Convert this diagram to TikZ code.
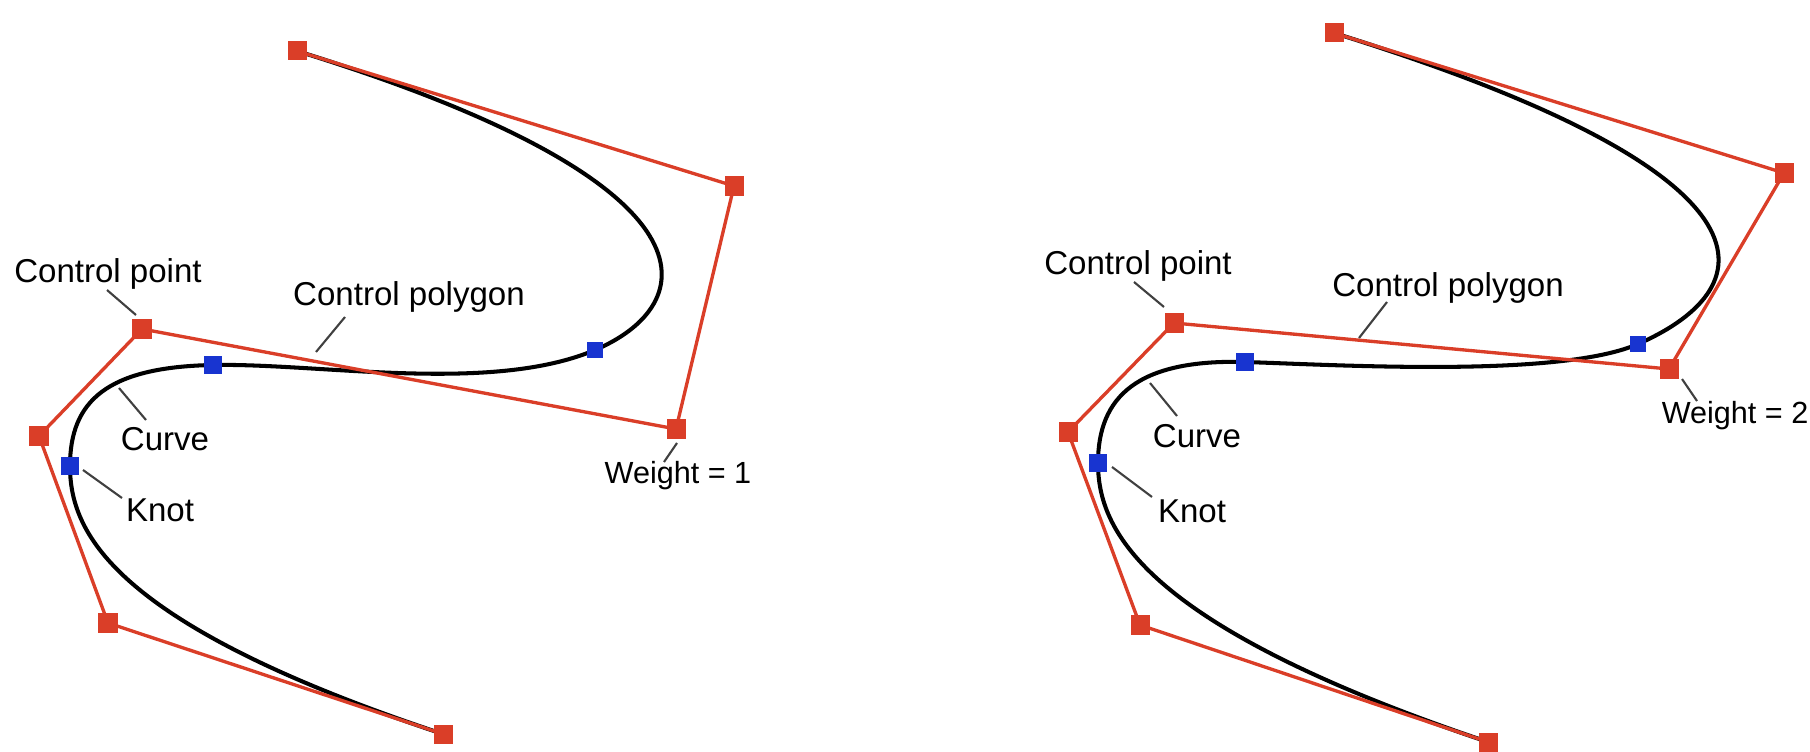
\documentclass[tikz,border=0pt]{standalone}
\usepackage{fontspec}
\setmainfont{Liberation Sans}
\definecolor{ptred}{RGB}{218,62,40}
\definecolor{knotblue}{RGB}{24,52,208}
\begin{document}
\begin{tikzpicture}[
	x=0.01cm, y=-0.01cm,
	ctrl mark/.style={fill=ptred, minimum size=0.19cm, inner sep=0pt},
	knot mark/.style={fill=knotblue, minimum size=0.18cm, inner sep=0pt},
	ctrl poly/.style={draw=ptred, line width=0.95pt, line join=round},
	spline/.style={draw=black, line width=1.15pt},
	leader/.style={draw=black!75, line width=0.6pt},
	label node/.style={font=\fontsize{9.4}{11}\selectfont, inner sep=0pt, anchor=base},
	weight node/.style={font=\fontsize{8.7}{10}\selectfont, inner sep=0pt, anchor=base}
	]
	\useasboundingbox (0,0) rectangle (1810,752);

	% left: every weight = 1
	\coordinate (p0l) at (297,51);
	\coordinate (p1l) at (734,186);
	\coordinate (p2l) at (676,429);
	\coordinate (p3l) at (142,329);
	\coordinate (p4l) at (39,436);
	\coordinate (p5l) at (108,623);
	\coordinate (p6l) at (443,734);
	\coordinate (k1l) at (595,350);
	\coordinate (k2l) at (213,365);
	\coordinate (k3l) at (70,466);

	\draw[spline] (p0l) .. controls (p1l) and (699,306) .. (k1l)
		.. controls (491,394) and (320,363) .. (k2l)
		.. controls (107,367) and (70,401) .. (k3l)
		.. controls (70,530) and (p5l) .. (p6l);
	\draw[ctrl poly] (p0l) -- (p1l) -- (p2l) -- (p3l) -- (p4l) -- (p5l) -- (p6l);

	\foreach \p in {p0l,p1l,p2l,p3l,p4l,p5l,p6l}
		\node[ctrl mark] at (\p) {};
	\node[knot mark, minimum size=0.155cm] at (k1l) {};
	\node[knot mark] at (k2l) {};
	\node[knot mark] at (k3l) {};

	\node[label node] (cpl) at (108,283) {Control point};
	\node[label node] (pgl) at (409,305) {Control polygon};
	\node[label node] (cvl) at (165,450) {Curve};
	\node[label node] (knl) at (160,521) {Knot};
	\node[weight node] (wtl) at (678,483) {Weight = 1};

	\coordinate (cp1l) at (107,290);
	\coordinate (cp2l) at (136,315);
	\coordinate (pg1l) at (345,317);
	\coordinate (pg2l) at (316,352);
	\coordinate (cv1l) at (119,388);
	\coordinate (cv2l) at (146,420);
	\coordinate (kn1l) at (83,470);
	\coordinate (kn2l) at (122,498);
	\coordinate (wt1l) at (677,443);
	\coordinate (wt2l) at (664,462);
	\draw[leader] (cp1l) -- (cp2l);
	\draw[leader] (pg1l) -- (pg2l);
	\draw[leader] (cv1l) -- (cv2l);
	\draw[leader] (kn1l) -- (kn2l);
	\draw[leader] (wt1l) -- (wt2l);

	% right: weight of p2r = 2
	\coordinate (p0r) at (1334,33);
	\coordinate (p1r) at (1784,173);
	\coordinate (p2r) at (1669,369);
	\coordinate (p3r) at (1174,323);
	\coordinate (p4r) at (1068,432);
	\coordinate (p5r) at (1140,625);
	\coordinate (p6r) at (1488,742);
	\coordinate (k1r) at (1638,344);
	\coordinate (k2r) at (1245,362);
	\coordinate (k3r) at (1098,463);

	\draw[spline] (p0r) .. controls (p1r) and (1770,286) .. (k1r)
		.. controls (1560,378) and (1340,365) .. (k2r)
		.. controls (1137,359) and (1098,397) .. (k3r)
		.. controls (1098,529) and (p5r) .. (p6r);
	\draw[ctrl poly] (p0r) -- (p1r) -- (p2r) -- (p3r) -- (p4r) -- (p5r) -- (p6r);

	\foreach \p in {p0r,p1r,p2r,p3r,p4r,p5r,p6r}
		\node[ctrl mark] at (\p) {};
	\node[knot mark, minimum size=0.155cm] at (k1r) {};
	\node[knot mark] at (k2r) {};
	\node[knot mark] at (k3r) {};

	\node[label node] (cpr) at (1138,275) {Control point};
	\node[label node] (pgr) at (1448,297) {Control polygon};
	\node[label node] (cvr) at (1197,447) {Curve};
	\node[label node] (knr) at (1192,522) {Knot};
	\node[weight node] (wtr) at (1735,423) {Weight = 2};

	\coordinate (cp1r) at (1134,282);
	\coordinate (cp2r) at (1164,307);
	\coordinate (pg1r) at (1387,302);
	\coordinate (pg2r) at (1359,338);
	\coordinate (cv1r) at (1150,383);
	\coordinate (cv2r) at (1177,416);
	\coordinate (kn1r) at (1112,467);
	\coordinate (kn2r) at (1152,497);
	\coordinate (wt1r) at (1682,379);
	\coordinate (wt2r) at (1697,401);
	\draw[leader] (cp1r) -- (cp2r);
	\draw[leader] (pg1r) -- (pg2r);
	\draw[leader] (cv1r) -- (cv2r);
	\draw[leader] (kn1r) -- (kn2r);
	\draw[leader] (wt1r) -- (wt2r);
\end{tikzpicture}
\end{document}
